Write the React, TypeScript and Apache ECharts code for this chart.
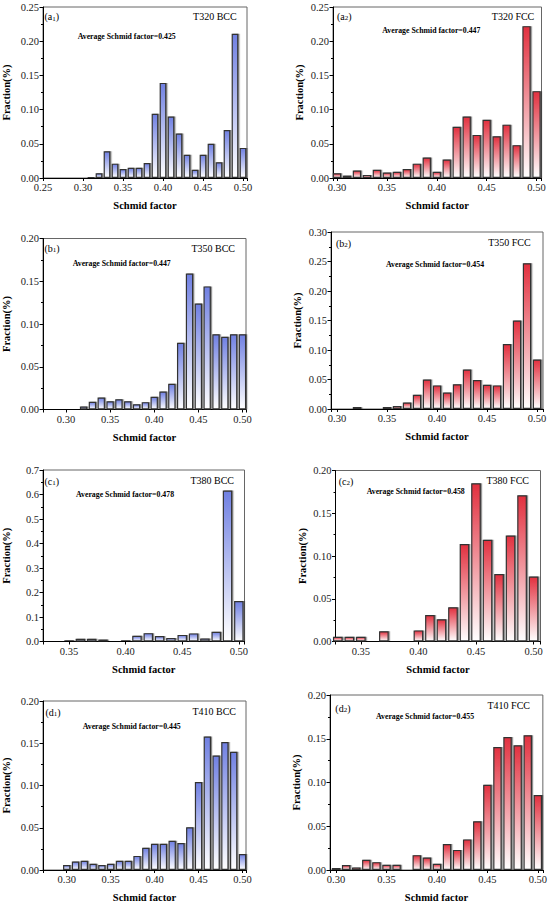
import React, { useEffect, useRef } from "react";
import * as echarts from "echarts";

// ---- data (bin centres = Schmid factor, values = fraction) ----
const binsA1 = [0.28, 0.29, 0.30, 0.31, 0.32, 0.33, 0.34, 0.35, 0.36, 0.37, 0.38, 0.39, 0.40, 0.41, 0.42, 0.43, 0.44, 0.45, 0.46, 0.47, 0.48, 0.49, 0.50];
const valsA1 = [0.001, 0.001, 0.001, 0.002, 0.007, 0.039, 0.021, 0.013, 0.015, 0.015, 0.022, 0.094, 0.139, 0.090, 0.065, 0.034, 0.012, 0.034, 0.050, 0.023, 0.070, 0.211, 0.044];

const binsA2 = [0.30, 0.31, 0.32, 0.33, 0.34, 0.35, 0.36, 0.37, 0.38, 0.39, 0.40, 0.41, 0.42, 0.43, 0.44, 0.45, 0.46, 0.47, 0.48, 0.49, 0.50];
const valsA2 = [0.007, 0.0035, 0.011, 0.0045, 0.012, 0.008, 0.009, 0.013, 0.021, 0.030, 0.009, 0.027, 0.075, 0.090, 0.063, 0.085, 0.061, 0.078, 0.048, 0.222, 0.127];

const binsB1 = [0.28, 0.29, 0.30, 0.31, 0.32, 0.33, 0.34, 0.35, 0.36, 0.37, 0.38, 0.39, 0.40, 0.41, 0.42, 0.43, 0.44, 0.45, 0.46, 0.47, 0.48, 0.49, 0.50];
const valsB1 = [0.0005, 0.001, 0.001, 0.001, 0.0035, 0.009, 0.014, 0.0097, 0.012, 0.0097, 0.0062, 0.0086, 0.015, 0.021, 0.030, 0.078, 0.159, 0.124, 0.144, 0.088, 0.085, 0.088, 0.088];

const binsB2 = [0.30, 0.31, 0.32, 0.33, 0.34, 0.35, 0.36, 0.37, 0.38, 0.39, 0.40, 0.41, 0.42, 0.43, 0.44, 0.45, 0.46, 0.47, 0.48, 0.49, 0.50];
const valsB2 = [0.001, 0, 0.0034, 0.0017, 0.0017, 0.0034, 0.005, 0.011, 0.024, 0.050, 0.040, 0.028, 0.042, 0.067, 0.049, 0.041, 0.040, 0.110, 0.150, 0.247, 0.084];

const binsC1 = [0.34, 0.35, 0.36, 0.37, 0.38, 0.39, 0.40, 0.41, 0.42, 0.43, 0.44, 0.45, 0.46, 0.47, 0.48, 0.49, 0.50];
const valsC1 = [0.003, 0.005, 0.011, 0.011, 0.008, 0.004, 0.005, 0.023, 0.034, 0.022, 0.014, 0.027, 0.033, 0.012, 0.040, 0.616, 0.165];

const binsC2 = [0.33, 0.34, 0.35, 0.36, 0.37, 0.38, 0.39, 0.40, 0.41, 0.42, 0.43, 0.44, 0.45, 0.46, 0.47, 0.48, 0.49, 0.50];
const valsC2 = [0.0055, 0.0055, 0.0055, 0, 0.012, 0, 0, 0.013, 0.031, 0.026, 0.040, 0.114, 0.185, 0.119, 0.079, 0.124, 0.171, 0.076];

const binsD1 = [0.28, 0.29, 0.30, 0.31, 0.32, 0.33, 0.34, 0.35, 0.36, 0.37, 0.38, 0.39, 0.40, 0.41, 0.42, 0.43, 0.44, 0.45, 0.46, 0.47, 0.48, 0.49, 0.50];
const valsD1 = [0.0005, 0.001, 0.006, 0.010, 0.011, 0.0074, 0.006, 0.0074, 0.011, 0.011, 0.0167, 0.0264, 0.031, 0.031, 0.0346, 0.032, 0.0505, 0.104, 0.158, 0.1355, 0.1515, 0.140, 0.019];

const binsD2 = [0.30, 0.31, 0.32, 0.33, 0.34, 0.35, 0.36, 0.37, 0.38, 0.39, 0.40, 0.41, 0.42, 0.43, 0.44, 0.45, 0.46, 0.47, 0.48, 0.49, 0.50];
const valsD2 = [0.0023, 0.0056, 0.003, 0.0117, 0.009, 0.006, 0.006, 0, 0.017, 0.0143, 0.0071, 0.0297, 0.023, 0.035, 0.0556, 0.0974, 0.1406, 0.152, 0.1425, 0.154, 0.0857];

const panelLetters = ["a", "a", "b", "b", "c", "c", "d", "d"];
const panelSubs = ["1", "2", "1", "2", "1", "2", "1", "2"];
const sampleNames = ["T320 BCC", "T320 FCC", "T350 BCC", "T350 FCC", "T380 BCC", "T380 FCC", "T410 BCC", "T410 FCC"];
const averages = ["0.425", "0.447", "0.447", "0.454", "0.478", "0.458", "0.445", "0.455"];
const xMins = [0.25, 0.296, 0.274, 0.294, 0.327, 0.328, 0.273, 0.294];
const xMaxs = [0.505, 0.505, 0.504, 0.506, 0.505, 0.506, 0.504, 0.505];
const yMaxs = [0.25, 0.25, 0.2, 0.3, 0.7, 0.2, 0.2, 0.2];
const yIntervals = [0.05, 0.05, 0.05, 0.05, 0.1, 0.05, 0.05, 0.05];
const yDigits = [2, 2, 2, 2, 1, 2, 2, 2];

const allBins = [binsA1, binsA2, binsB1, binsB2, binsC1, binsC2, binsD1, binsD2];
const allVals = [valsA1, valsA2, valsB1, valsB2, valsC1, valsC2, valsD1, valsD2];

// ---- layout (page pixels) ----
const grids = [
  { left: 39.5, top: 7, width: 207.5, height: 171 },
  { left: 333, top: 7, width: 208.5, height: 171 },
  { left: 39.5, top: 238.5, width: 206.5, height: 171 },
  { left: 331, top: 232, width: 212, height: 177 },
  { left: 39.5, top: 470, width: 205, height: 171.5 },
  { left: 335.5, top: 470.5, width: 205, height: 171 },
  { left: 39.5, top: 701, width: 206.5, height: 172 },
  { left: 330, top: 695, width: 213, height: 177.5 },
];
const yNameGaps = [31, 28, 31, 28, 31, 28, 31, 28];
const splitNumbers = [5, 5, 5, 5, 4, 4, 5, 5];
const labelPos = [
  [44.5, 16.7], [337, 16], [44.5, 248.3], [336, 243.3],
  [44.5, 481], [338.7, 481], [45.5, 712.3], [335.3, 708.3],
];
const namePos = [
  [236.7, 16.7], [534.3, 16], [235, 248.3], [530.7, 242.3],
  [234, 480], [529, 480], [236, 711.7], [530, 705],
];
const avgPos = [
  [77.7, 36.7], [382.3, 30], [72.7, 263.3], [386, 264.3],
  [76, 494], [366.7, 491.7], [82.7, 726], [376, 716],
];

const SERIF = "'Liberation Serif', 'Times New Roman', serif";
const BLUE = "#7080e2";
const RED = "#e2303f";

function isMultiple(v: number, step: number) {
  const r = v / step;
  return Math.abs(r - Math.round(r)) < 1e-6;
}

export default function App() {
  const ref = useRef<HTMLDivElement>(null);

  useEffect(() => {
    document.body.style.margin = "0";
    if (!ref.current) return;
    const chart = echarts.init(ref.current, null, { renderer: "svg" });

    const gridOpt: any[] = [];
    const xAxes: any[] = [];
    const yAxes: any[] = [];
    const series: any[] = [];
    const graphics: any[] = [];

    for (let i = 0; i < 8; i++) {
      const isBcc = i % 2 === 0;
      const topColor = isBcc ? BLUE : RED;
      gridOpt.push({
        ...grids[i],
        show: true,
        borderColor: "#666",
        borderWidth: 1,
        containLabel: false,
      });
      xAxes.push({
        type: "value",
        gridIndex: i,
        min: xMins[i],
        max: xMaxs[i],
        splitNumber: splitNumbers[i],
        name: "Schmid factor",
        nameLocation: "middle",
        nameGap: 22,
        nameTextStyle: { fontFamily: SERIF, fontWeight: "bold", fontSize: 10.5, color: "#000" },
        axisLine: { show: true, onZero: false, lineStyle: { color: "#000", width: 1 } },
        axisTick: { show: true, inside: false, length: 3, lineStyle: { color: "#000" } },
        axisLabel: {
          fontFamily: SERIF,
          fontSize: 10.5,
          color: "#222",
          margin: 4,
          formatter: (v: number) => (isMultiple(v, 0.05) ? v.toFixed(2) : ""),
        },
        splitLine: { show: false },
      });
      yAxes.push({
        type: "value",
        gridIndex: i,
        min: 0,
        max: yMaxs[i],
        interval: yIntervals[i],
        name: "Fraction(%)",
        nameLocation: "middle",
        nameGap: yNameGaps[i],
        nameTextStyle: { fontFamily: SERIF, fontWeight: "bold", fontSize: 10.5, color: "#000" },
        axisLine: { show: true, lineStyle: { color: "#000", width: 1 } },
        axisTick: { show: true, inside: false, length: 3.5, lineStyle: { color: "#000" } },
        minorTick: { show: true, splitNumber: 2, length: 2, lineStyle: { color: "#000" } },
        axisLabel: {
          fontFamily: SERIF,
          fontSize: 10.5,
          color: "#222",
          margin: 4,
          formatter: (v: number) => v.toFixed(yDigits[i]),
        },
        splitLine: { show: false },
      });
      const data = allBins[i]
        .map((x, j) => [x, allVals[i][j]])
        .filter((d) => d[1] > 0);
      series.push({
        type: "bar",
        xAxisIndex: i,
        yAxisIndex: i,
        data,
        barWidth: "84%",
        clip: true,
        itemStyle: {
          color: new echarts.graphic.LinearGradient(0, 0, 0, 1, [
            { offset: 0, color: topColor },
            { offset: 1, color: "#ffffff" },
          ]),
          borderColor: "#333",
          borderWidth: 1.2,
          shadowColor: "rgba(0,0,0,0.45)",
          shadowOffsetX: 1.2,
          shadowOffsetY: 0,
          shadowBlur: 0,
        },
      });

      graphics.push({
        type: "text",
        z: 100,
        x: labelPos[i][0],
        y: labelPos[i][1],
        style: {
          text: `{a|(${panelLetters[i]}}{s|${panelSubs[i]}}{a|)}`,
          verticalAlign: "middle",
          align: "left",
          rich: {
            a: { fontFamily: SERIF, fontSize: 10, fill: "#000" },
            s: { fontFamily: SERIF, fontSize: 7, fill: "#000", verticalAlign: "bottom", padding: [4, 0, 0, 0] },
          },
        },
      });
      graphics.push({
        type: "text",
        z: 100,
        x: namePos[i][0],
        y: namePos[i][1],
        style: {
          text: sampleNames[i],
          align: "right",
          verticalAlign: "middle",
          fontFamily: SERIF,
          fontSize: 10,
          fill: "#000",
        },
      });
      graphics.push({
        type: "text",
        z: 100,
        x: avgPos[i][0],
        y: avgPos[i][1],
        style: {
          text: `Average Schmid factor=${averages[i]}`,
          align: "left",
          verticalAlign: "middle",
          fontFamily: SERIF,
          fontWeight: "bold",
          fontSize: 7.8,
          fill: "#000",
        },
      });
    }

    chart.setOption({
      animation: false,
      backgroundColor: "#fff",
      grid: gridOpt,
      xAxis: xAxes,
      yAxis: yAxes,
      series,
      graphic: graphics,
    });

    return () => chart.dispose();
  }, []);

  return <div ref={ref} style={{ width: 550, height: 904 }} />;
}
